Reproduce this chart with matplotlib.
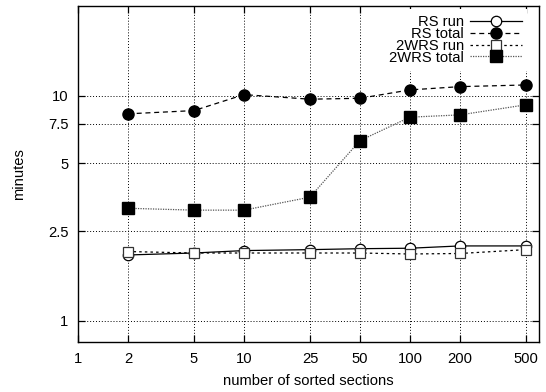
import matplotlib
matplotlib.use("Agg")
import matplotlib.pyplot as plt
from matplotlib.ticker import FixedLocator, FixedFormatter, NullLocator

plt.rcParams['font.family'] = ['Liberation Sans', 'DejaVu Sans']

sections = [2, 5, 10, 25, 50, 100, 200, 500]
x_ticks = [1, 2, 5, 10, 25, 50, 100, 200, 500]
x_tick_labels = ["1", "2", "5", "10", "25", "50", "100", "200", "500"]
y_ticks = [1, 2.5, 5, 7.5, 10]
y_tick_labels = ["1", "2.5", "5", "7.5", "10"]

rs_run = [1.96, 2.00, 2.05, 2.07, 2.09, 2.10, 2.15, 2.15]
rs_total = [8.3, 8.58, 10.1, 9.64, 9.73, 10.6, 10.96, 11.15]
wrs_run = [2.03, 2.00, 2.00, 2.00, 2.00, 1.98, 1.99, 2.07]
wrs_total = [3.16, 3.10, 3.10, 3.54, 6.31, 8.02, 8.21, 9.1]

FS = 10.6

fig = plt.figure(figsize=(5.46, 3.92), dpi=100)
ax = fig.add_axes([78/546, 50/392, (539-78)/546, (342-6)/392])

ax.set_xscale('log')
ax.set_yscale('log')
ax.set_xlim(1, 600)
ax.set_ylim(0.805, 25)

ax.plot(sections, rs_run, color='black', lw=0.9, ls='-', marker='o',
        markersize=7.5, markerfacecolor='white', markeredgecolor='black',
        markeredgewidth=0.9, label='RS run')
ax.plot(sections, rs_total, color='black', lw=0.9, ls=(0, (4, 3)), marker='o',
        markersize=8, markerfacecolor='black', markeredgecolor='black',
        label='RS total')
ax.plot(sections, wrs_run, color='black', lw=0.9, ls=(0, (2, 2.5)), marker='s',
        markersize=7.5, markerfacecolor='white', markeredgecolor='#333333',
        markeredgewidth=0.9, label='2WRS run')
ax.plot(sections, wrs_total, color='#555555', lw=0.9, ls=(0, (1, 1)), marker='s',
        markersize=8, markerfacecolor='black', markeredgecolor='black',
        label='2WRS total')

ax.xaxis.set_major_locator(FixedLocator(x_ticks))
ax.xaxis.set_major_formatter(FixedFormatter(x_tick_labels))
ax.xaxis.set_minor_locator(NullLocator())
ax.yaxis.set_major_locator(FixedLocator(y_ticks))
ax.yaxis.set_major_formatter(FixedFormatter(y_tick_labels))
ax.yaxis.set_minor_locator(NullLocator())

ax.tick_params(which='major', direction='in', length=5, width=0.9,
               top=True, right=True, labelsize=FS, pad=7, colors='black')
ax.grid(True, which='major', color='black', ls=(0, (1, 2)), lw=0.7)
ax.set_axisbelow(True)
for s in ax.spines.values():
    s.set_linewidth(1.0)

ax.set_xlabel('number of sorted sections', fontsize=FS, labelpad=6)
ax.set_ylabel('minutes', fontsize=FS, labelpad=16)

leg = ax.legend(loc='upper right', bbox_to_anchor=(0.975, 0.99), frameon=True,
                facecolor='white', edgecolor='none', framealpha=1.0,
                markerfirst=False, handlelength=3.5, handletextpad=0.4,
                labelspacing=-0.15, borderpad=0.4, borderaxespad=0,
                fontsize=FS, fancybox=False)

fig.savefig('out.png', dpi=100)
